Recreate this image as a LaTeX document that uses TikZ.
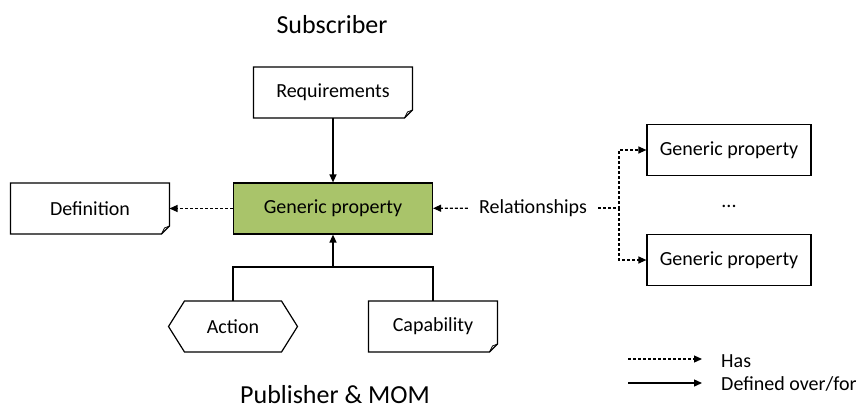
\documentclass[tikz,border=0pt]{standalone}
\usepackage{fontspec}
\setmainfont{Carlito}
\usetikzlibrary{arrows.meta}

\begin{document}
\begin{tikzpicture}[x=1pt,y=-1pt,
    txt/.style={font=\fontsize{20}{24}\selectfont},
    title/.style={font=\fontsize{26}{30}\selectfont, anchor=base},
    note/.style={txt, minimum width=159pt, minimum height=51pt, outer sep=0pt},
    box/.style={txt, draw, line width=1.2pt, minimum height=51pt},
    outline/.style={line width=1.2pt, line join=miter},
    has/.style={line width=1.2pt, dash pattern=on 3pt off 2pt, -{Triangle[length=8pt,width=7pt]}},
    defd/.style={line width=1.4pt, -{Triangle[length=8pt,width=7pt]}}]
  \useasboundingbox (0,0) rectangle (859,410);
  \node[title] (sub) at (332,33) {Subscriber};
  \node[title] (pub) at (335,403) {Publisher \& MOM};
  \node[note] (req) at (333,92.5) {Requirements};
  \node[note] (def) at (90,208.5) {Definition};
  \node[box, fill={rgb,255:red,169;green,196;blue,106}, minimum width=199pt] (gp) at (333,208.5) {Generic property};
  \node[txt, inner xsep=11pt] (rel) at (533,208) {Relationships};
  \node[box, minimum width=164pt] (gpa) at (729,150) {Generic property};
  \node[txt, anchor=base] (dots) at (729,207) {...};
  \node[box, minimum width=164pt] (gpb) at (729,260) {Generic property};
  \node[txt, minimum width=97pt, minimum height=51pt, outer sep=0pt] (act) at (233,326.5) {Action};
  \node[note, minimum width=129pt] (cap) at (433,326.5) {Capability};
  % folded notes and the hexagon
  \foreach \n in {req,def,cap}{
    \draw[outline] (\n.north west) -- (\n.north east) -- ([yshift=8pt]\n.south east)
      -- ([xshift=-8pt]\n.south east) -- (\n.south west) -- cycle;
    \draw[line width=0.8pt] ([yshift=8pt]\n.south east) -- ([xshift=-5pt,yshift=6pt]\n.south east)
      -- ([xshift=-8pt]\n.south east);
  }
  \draw[outline] (act.north west) -- (act.north east) -- ([xshift=16pt]act.east) -- (act.south east)
    -- (act.south west) -- ([xshift=-16pt]act.west) -- cycle;
  % connectors
  \draw[defd] (req) -- (gp);
  \draw[has] (gp) -- (def);
  \draw[has] (rel) -- (gp);
  \coordinate (br) at (619,208);
  \draw[has] (rel.east) -- (br) |- (gpa.west);
  \draw[has] (br) |- (gpb.west);
  \coordinate (jn) at (333,267);
  \draw[line width=1.4pt] (act.north) |- (jn) -| (cap.north);
  \draw[defd] (jn) -- (gp.south);
  % legend
  \coordinate (ha) at (628,359);
  \coordinate (hb) at (702,359);
  \coordinate (da) at (628,383);
  \coordinate (db) at (702,383);
  \draw[has] (ha) -- (hb);
  \draw[defd] (da) -- (db);
  \node[txt, anchor=base west, inner sep=0pt] (lhas) at (721,367) {Has};
  \node[txt, anchor=base west, inner sep=0pt] (ldef) at (721,390) {Defined over/for};
\end{tikzpicture}
\end{document}
